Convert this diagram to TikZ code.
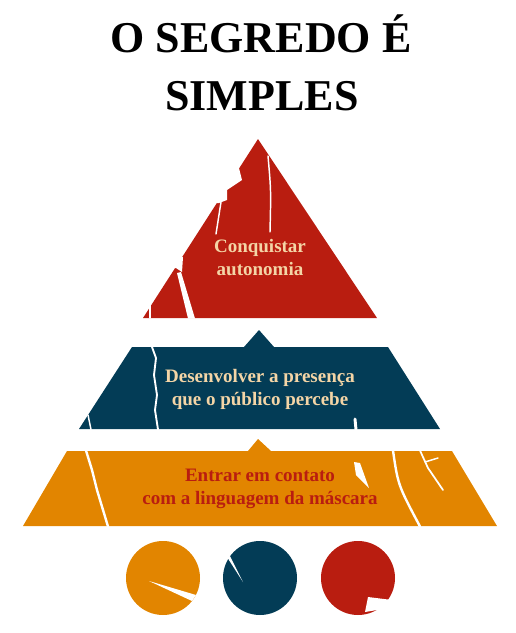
\documentclass[tikz,border=0pt]{standalone}
\usepackage{fontspec}
\setmainfont{Liberation Serif}
\definecolor{pyrred}{HTML}{B91D10}
\definecolor{pyrblue}{HTML}{033C56}
\definecolor{pyrorange}{HTML}{E28500}
\definecolor{beige}{HTML}{F4D5A6}
\tikzset{
  titletext/.style={anchor=base, font=\fontsize{33}{40}\selectfont\bfseries, text=black, inner sep=0pt},
  tiertext/.style={anchor=base, align=center, font=\fontsize{14.25}{17.25}\selectfont\bfseries, inner sep=0pt},
  crk/.style={draw=white, line width=1.1pt, line cap=round, line join=round},
  crkfill/.style={fill=white, draw=none},
}
\begin{document}
\begin{tikzpicture}[x=0.75pt, y=-0.75pt]
\useasboundingbox (0,0) rectangle (516,633);

% title
\node[titletext] (t1) at (261,52) {O SEGREDO É};
\node[titletext] (t2) at (262,110) {SIMPLES};

% top triangle
\fill[pyrred] (258,139) -- (377,318) -- (143,318) -- cycle;
\fill[crkfill] (239,168) -- (242,180) -- (227,190) -- (227,200) -- (219,203) -- (200,203) -- (200,168) -- cycle;
\fill[crkfill] (183,257) -- (182,272) -- (176,268) -- (170,268) -- (170,257) -- cycle;
\draw[crk] (268,156) .. controls (271,190) .. (270,232);
\draw[crk] (221,202) -- (216,234);
\fill[crkfill] (177,273) -- (181,272) -- (195,318.5) -- (188,318.5) -- cycle;
\draw[crk, line width=0.8pt] (150,304) -- (150,318);
\node[tiertext, text=beige] (n1) at (260,275) {Conquistar\\autonomia};

% middle tier
\fill[pyrblue] (79,429) -- (132,347) -- (244,347) -- (259,330) -- (274,347) -- (388,347) -- (440,429) -- cycle;
\draw[crk, line width=1.4pt] (152,347) -- (156,358) -- (154,375) -- (157,395) -- (155,410) -- (158,429.5);
\draw[crk] (88,415) -- (91,429.5);
\draw[crk, line width=2.2pt] (355,419) -- (356,429.5);
\node[tiertext, text=beige] (n2) at (260,405) {Desenvolver a presença\\que o público percebe};

% bottom tier
\fill[pyrorange] (23,526) -- (67,451) -- (248,451) -- (258,439) -- (271,451) -- (452,451) -- (497,526) -- cycle;
\draw[crk, line width=1.8pt] (86,450.5) -- (92,470) -- (97,490) -- (108,526.5);
\draw[crk, line width=1.8pt] (393,450.5) .. controls (398,485) .. (420,526.5);
\draw[crk, line width=1.3pt] (420,450.5) -- (428,468) -- (443,490);
\draw[crk, line width=1.1pt] (425,462) -- (438,458);
\fill[crkfill] (354,462) -- (360,463) -- (369,488) -- (356,475) -- cycle;
\node[tiertext, text=pyrred] (n3) at (260,504) {Entrar em contato\\com a linguagem da máscara};

% circles
\fill[pyrorange] (163,578) circle (37);
\fill[crkfill] (149,581) -- (196,595) -- (192,601) -- cycle;
\fill[pyrblue] (260,578) circle (37);
\fill[crkfill] (227,557) -- (230,556) -- (243,582) -- cycle;
\fill[pyrred] (358,578) circle (37);
\fill[crkfill] (368,597) -- (392,600) -- (390,614) -- (377,610) -- (365,612) -- cycle;
\end{tikzpicture}
\end{document}
